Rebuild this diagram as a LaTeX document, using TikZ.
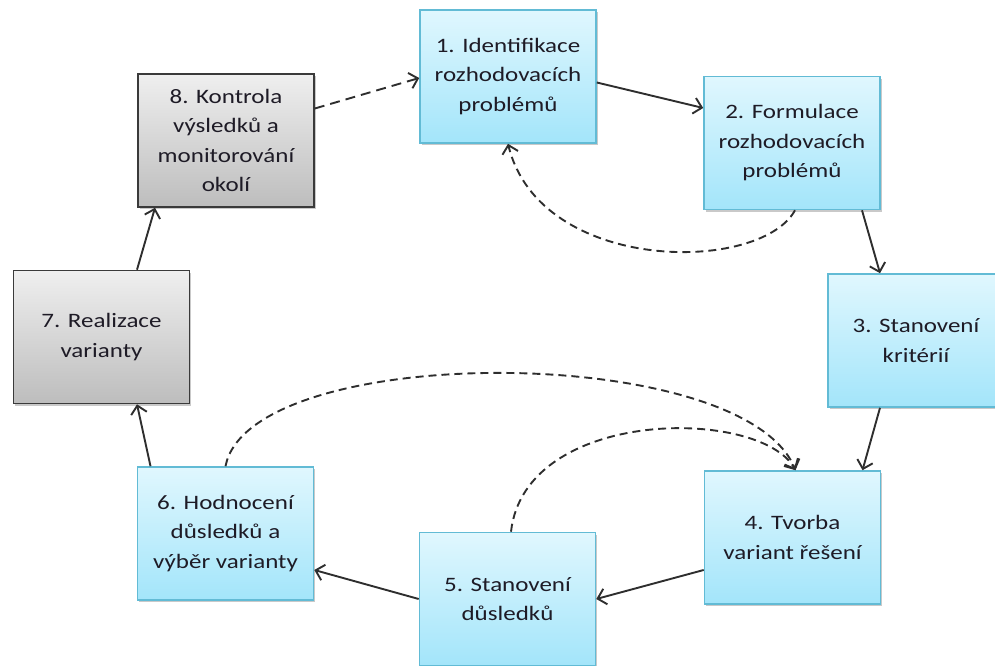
\documentclass[tikz,border=0pt]{standalone}
\usepackage{fontspec}
\setmainfont{Carlito}[FakeStretch=1.22]
\usetikzlibrary{arrows.meta,shadows}

\definecolor{blueTop}{HTML}{E0F7FE}
\definecolor{blueBottom}{HTML}{A3E5FA}
\definecolor{blueEdge}{HTML}{62BBD5}
\definecolor{grayTop}{HTML}{EFEFEF}
\definecolor{grayBottom}{HTML}{BDBDBD}
\definecolor{grayEdge}{HTML}{3A3A3A}
\definecolor{textDark}{HTML}{1E1B26}
\definecolor{linkGray}{HTML}{2E2E2E}

\begin{document}
\begin{tikzpicture}[x=1pt,y=1pt,
  stepbox/.style={rectangle, minimum width=176pt, minimum height=133pt,
    line width=1.6pt, align=center, text=textDark,
    font=\fontsize{20.5}{29.5}\selectfont,
    drop shadow={shadow xshift=1.5pt, shadow yshift=-2.5pt, opacity=0.3, fill=black!70}},
  bluebox/.style={stepbox, draw=blueEdge, top color=blueTop, bottom color=blueBottom},
  graybox/.style={stepbox, draw=grayEdge, top color=grayTop, bottom color=grayBottom},
  link/.style={draw=linkGray, line width=1.9pt,
    -{Straight Barb[length=8pt,width=16pt,line width=1.9pt]}},
  backlink/.style={link, dash pattern=on 8pt off 5pt}]

\useasboundingbox (0,0) rectangle (995,666);
\clip (0,0) rectangle (995,666);

% process steps
\node[bluebox] (b1) at (508,589.5) {1. Identifikace\\rozhodovacích\\problémů};
\node[bluebox] (b2) at (792,523) {2. Formulace\\rozhodovacích\\problémů};
\node[bluebox] (b3) at (916,325.5) {3. Stanovení\\kritérií};
\node[bluebox] (b4) at (792.5,128.5) {4. Tvorba\\variant řešení};
\node[bluebox] (b5) at (507.5,67) {5. Stanovení\\důsledků};
\node[bluebox] (b6) at (225.5,132.5) {6. Hodnocení\\důsledků a\\výběr varianty};
\node[graybox] (b7) at (101.5,329) {7. Realizace\\varianty};
\node[graybox] (b8) at (226,525.5) {8. Kontrola\\výsledků a\\monitorování\\okolí};

% main cycle
\draw[link] ([yshift=-6pt]b1.east) -- ([yshift=35pt]b2.west);
\draw[link] ([xshift=70pt]b2.south) -- ([xshift=-36pt]b3.north);
\draw[link] ([xshift=-36pt]b3.south) -- ([xshift=70pt]b4.north);
\draw[link] ([yshift=-32.5pt]b4.west) -- ([yshift=0pt]b5.east);
\draw[link] ([yshift=0pt]b5.west) -- ([yshift=-36.5pt]b6.east);
\draw[link] ([xshift=-75pt]b6.north) -- ([xshift=35.5pt]b7.south);
\draw[link] ([xshift=35.5pt]b7.north) -- ([xshift=-71pt]b8.south);
\draw[backlink, dash pattern=on 10pt off 6pt] ([yshift=32pt]b8.east) -- ([yshift=-1.5pt]b1.west);

% feedback loops
\draw[backlink] ([xshift=3pt]b2.south) .. controls (760,392) and (540,392) .. (b1.south);
\draw[backlink] (b6.north) .. controls (250,324.5) and (743,324.5) .. ([xshift=3pt]b4.north);
\draw[backlink] ([xshift=3.5pt]b5.north) .. controls (525,259) and (760,259) .. ([xshift=3pt]b4.north);

\end{tikzpicture}
\end{document}
